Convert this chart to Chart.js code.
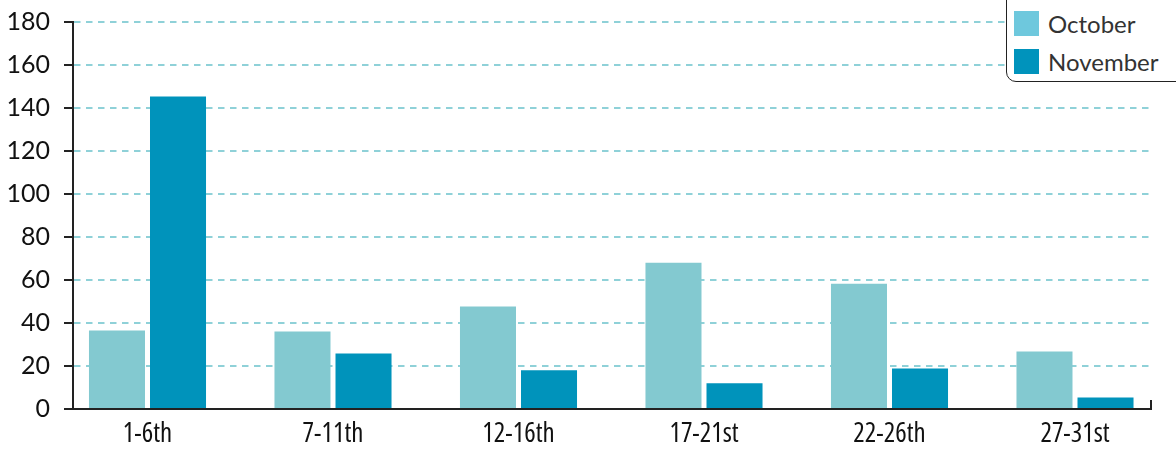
<!DOCTYPE html>
<html>
<head>
<meta charset="utf-8">
<script src="https://cdn.jsdelivr.net/npm/chart.js@4/dist/chart.umd.min.js"></script>
<style>
  html, body { margin: 0; padding: 0; background: #fff; }
  #wrap { position: relative; width: 1176px; height: 450px; overflow: hidden; }
  #legend { position: absolute; left: 1006px; top: -12px; width: 190px; height: 94px;
    border: 1.5px solid #222; border-radius: 10px; box-sizing: border-box; background: #fff;
    font-family: Lato, "Open Sans", sans-serif; font-size: 24px; color: #333; }
  .item { position: absolute; left: 7px; height: 26px; display: flex; align-items: center; }
  .sw { width: 25px; height: 25px; margin-right: 9px; }
</style>
</head>
<body>
<div id="wrap">
  <canvas id="c" width="1176" height="450"></canvas>
  <div id="legend"></div>
</div>
<script>
const categories = ["1-6th", "7-11th", "12-16th", "17-21st", "22-26th", "27-31st"];
const october = [36.5, 36, 47.7, 68, 58.3, 26.7];
const november = [145.3, 25.8, 18, 12, 18.8, 5.3];
const yTicks = [0, 20, 40, 60, 80, 100, 120, 140, 160, 180];
const seriesNames = ["October", "November"];
const barColors = ["#83c9d0", "#0093bb"];
const legendColors = ["#6ec8dd", "#0093bc"];

const toPoints = arr => arr.map((v, i) => ({ x: i, y: v }));

const endTick = {
  id: 'endTick',
  afterDraw(chart) {
    const { ctx, chartArea } = chart;
    ctx.save();
    ctx.strokeStyle = '#222';
    ctx.lineWidth = 2;
    ctx.beginPath();
    ctx.moveTo(chartArea.right, chartArea.bottom + 1);
    ctx.lineTo(chartArea.right, chartArea.bottom - 9);
    ctx.stroke();
    ctx.restore();
  }
};

const chart = new Chart(document.getElementById('c'), {
  type: 'bar',
  data: {
    datasets: [
      { label: seriesNames[0], data: toPoints(october), backgroundColor: barColors[0] },
      { label: seriesNames[1], data: toPoints(november), backgroundColor: barColors[1] }
    ]
  },
  plugins: [endTick],
  options: {
    responsive: false,
    animation: false,
    devicePixelRatio: 1,
    barPercentage: 0.918,
    categoryPercentage: 0.658,
    layout: { padding: { top: 22, right: 25, left: 0, bottom: 0 } },
    plugins: { legend: { display: false }, tooltip: { enabled: false } },
    scales: {
      x: {
        type: 'linear',
        offset: false,
        min: -0.4016,
        max: 5.4097,
        afterFit(s) { s.height = 41; s.paddingLeft = 0; s.paddingRight = 0; },
        afterBuildTicks(s) { s.ticks = categories.map((_, i) => ({ value: i })); },
        grid: { display: false, drawTicks: false, offset: false },
        border: { display: true, color: '#222', width: 2 },
        ticks: {
          autoSkip: false, maxRotation: 0, padding: 9,
          color: '#111',
          font: { family: '"Open Sans", "Roboto Condensed", sans-serif', size: 27, weight: 'condensed 500' },
          callback: v => categories[v] ?? ''
        }
      },
      y: {
        min: 0, max: 180,
        afterFit(s) { s.width = 73; s.paddingTop = 0; s.paddingBottom = 0; },
        afterBuildTicks(s) { s.ticks = yTicks.map(v => ({ value: v })); },
        grid: { color: '#8fd1d8', lineWidth: 2, tickColor: '#222', tickLength: 9, tickWidth: 2, tickBorderDash: [] },
        border: { display: true, color: '#222', width: 2, dash: [6.5, 5.5] },
        ticks: {
          padding: 14, color: '#111',
          font: { family: 'Lato, "Open Sans", sans-serif', size: 25 }
        }
      }
    }
  }
});

const legend = document.getElementById('legend');
seriesNames.forEach((name, i) => {
  const it = document.createElement('div');
  it.className = 'item';
  it.style.top = (i === 0 ? 21 : 59) + 'px';
  it.innerHTML = '<div class="sw" style="background:' + legendColors[i] + '"></div><span>' + name + '</span>';
  legend.appendChild(it);
});
</script>
</body>
</html>
